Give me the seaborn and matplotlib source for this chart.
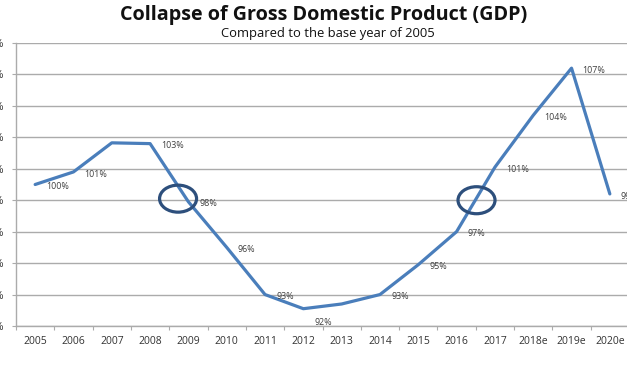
import matplotlib
matplotlib.use("Agg")
import matplotlib.pyplot as plt
import seaborn as sns
import pandas as pd
from matplotlib.patches import Ellipse

# ---- data ----
years = ["2005", "2006", "2007", "2008", "2009", "2010", "2011", "2012",
         "2013", "2014", "2015", "2016", "2017", "2018e", "2019e", "2020e"]
gdp_index = [100.0, 100.8, 102.65, 102.6, 98.9, 96.0, 93.0, 92.1,
             92.4, 93.0, 94.9, 97.0, 101.1, 104.4, 107.4, 99.4]
point_labels = ["100%", "101%", "", "103%", "98%", "96%", "93%", "92%",
                "", "93%", "95%", "97%", "101%", "104%", "107%", "99%"]
y_ticks = [91, 93, 95, 97, 99, 101, 103, 105, 107, 109]
y_tick_labels = [f"{v}%" for v in y_ticks]
# highlighted crossing spots (category position, value)
circle_x = [3.73, 11.52]
circle_y = [99.1, 99.0]

title = "Collapse of Gross Domestic Product (GDP)"
subtitle = "Compared to the base year of 2005"

df = pd.DataFrame({"pos": range(len(years)), "year": years, "gdp": gdp_index})

sns.set_theme(style="white")
plt.rcParams["font.family"] = ["Open Sans", "DejaVu Sans"]

fig = plt.figure(figsize=(6.27, 3.76), dpi=100)
ax = fig.add_axes([16 / 627, 50 / 376, 613 / 627, 283 / 376])

grid_c = "#ababab"
for v in y_ticks:
    ax.axhline(v, color=grid_c, lw=1.0, zorder=0)

sns.lineplot(data=df, x="pos", y="gdp", ax=ax, color="#4a7ebb", lw=2.3,
             zorder=3, legend=False)

ax.set_xlim(-0.5, len(years) - 0.5)
ax.set_ylim(y_ticks[0], y_ticks[-1])
ax.set_yticks(y_ticks)
ax.set_yticklabels(y_tick_labels)
ax.set_xticks(range(len(years)))
ax.set_xticklabels(years)
ax.set_xticks([i + 0.5 for i in range(-1, len(years))], minor=True)
ax.tick_params(axis="x", which="major", length=0, pad=7, labelsize=7.5,
               labelcolor="#333333")
ax.tick_params(axis="x", which="minor", length=3, width=0.8, color=grid_c,
               direction="out", bottom=True)
ax.tick_params(axis="y", length=3, width=0.8, color=grid_c, pad=6,
               labelsize=7.5, labelcolor="#333333", left=True)
ax.set_xlabel("")
ax.set_ylabel("")
for s in ["top", "right"]:
    ax.spines[s].set_visible(False)
for s in ["left", "bottom"]:
    ax.spines[s].set_color(grid_c)
    ax.spines[s].set_linewidth(1.0)

imin = gdp_index.index(min(gdp_index))
for i, (v, lab) in enumerate(zip(gdp_index, point_labels)):
    if not lab:
        continue
    dy = -10 if i == imin else -1.5
    ax.annotate(lab, (i, v), xytext=(8, dy), textcoords="offset points",
                ha="left", va="center", fontsize=6.4, color="#404040",
                zorder=4, annotation_clip=False)

# ellipses sized in pixels, placed in data coords
px_per_x = ax.get_position().width * 627 / (len(years))
px_per_y = ax.get_position().height * 376 / (y_ticks[-1] - y_ticks[0])
for cx, cy in zip(circle_x, circle_y):
    ax.add_patch(Ellipse((cx, cy), 37 / px_per_x, 27 / px_per_y, fill=False,
                         ec="#2d4f7c", lw=2.3, zorder=5))

fig.text(324 / 627, 1 - 15 / 376, title, ha="center", va="center",
         fontsize=14.2, fontweight="bold", color="#111111")
fig.text(328 / 627, 1 - 33 / 376, subtitle, ha="center", va="center",
         fontsize=9.4, color="#111111")

fig.savefig("out.png", dpi=100)
